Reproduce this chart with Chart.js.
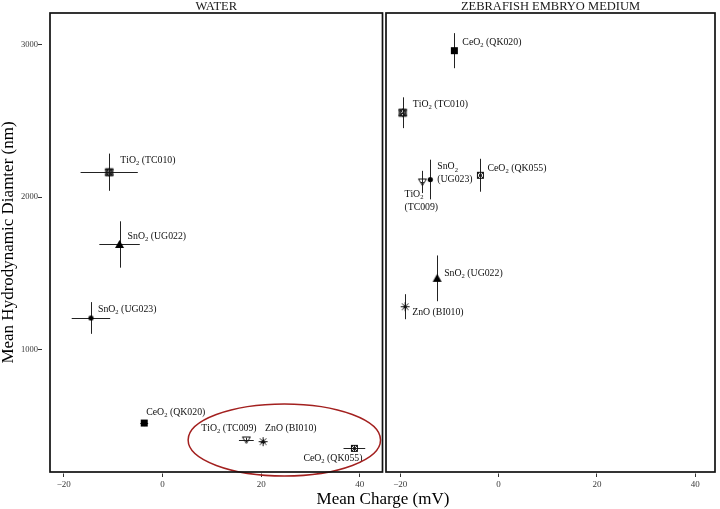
<!DOCTYPE html>
<html>
<head>
<meta charset="utf-8">
<script src="https://cdn.jsdelivr.net/npm/chart.js@4.4.0/dist/chart.umd.min.js"></script>
<style>
  body { margin: 0; background: #fff; }
  #wrap { position: relative; width: 720px; height: 509px; }
  #left { position: absolute; left: 0; top: 0; }
  #right { position: absolute; left: 384px; top: 0; }
  #xtitle { position: absolute; left: 0; width: 766px; top: 490px; text-align: center;
            font: 17px "Liberation Serif", serif; line-height: 17px; color: #000; }
</style>
</head>
<body>
<div id="wrap">
  <canvas id="left" width="384" height="509"></canvas>
  <canvas id="right" width="336" height="509"></canvas>
  <div id="xtitle">Mean Charge (mV)</div>
</div>
<script>
// --- data
const materials = ['TiO2 (TC010)', 'SnO2 (UG022)', 'SnO2 (UG023)', 'CeO2 (QK020)', 'TiO2 (TC009)', 'ZnO (BI010)', 'CeO2 (QK055)'];
const waterCharge    = [-10.8, -8.7, -14.5, -3.7, 17.0, 20.4, 38.9];
const waterChargeErr = [5.8, 4.1, 3.9, 0.8, 1.5, 0.5, 2.2];
const waterSize      = [2164, 1690, 1208, 519, 408, 397, 353];
const waterSizeErr   = [122, 152, 104, 20, 15, 15, 22];
const zebraCharge    = [-19.5, -12.5, -13.9, -9.0, -15.5, -19.0, -3.7];
const zebraChargeErr = [0.3, 0.3, 0.3, 0.3, 0.3, 0.3, 0.3];
const zebraSize      = [2554, 1468, 2116, 2961, 2100, 1282, 2144];
const zebraSizeErr   = [101, 150, 130, 115, 73, 82, 108];
const xTicks = [-20, 0, 20, 40];
const yTicks = [1000, 2000, 3000];
// circled group in the water panel (centre and half widths, in data units)
const highlight = { x: 24.7, y: 408, rx: 19.5, ry: 236 };

// --- label placement (pixel offsets from the point), [dx, dy, twoLines]
const waterLabelPos = [[11, -12], [8, -8], [7, -9], [2, -11], [-45, -12], [2, -13], [-51, 10]];
const zebraLabelPos = [[10, -8], [7, -5], [7, -12.6, true], [8, -8], [-18, 12.6, true], [7, 6], [7, -7]];

const SERIF = '"Liberation Serif", "Times New Roman", serif';
const LABEL_FONT = '9.8px ' + SERIF;
const SUB_FONT = '6.6px ' + SERIF;

// --- marker images
function marker(kind) {
  const c = document.createElement('canvas');
  c.width = 11; c.height = 11;
  const g = c.getContext('2d');
  g.strokeStyle = '#111'; g.fillStyle = '#000'; g.lineWidth = 1;
  const m = 5.5;
  if (kind === 'sqStar') {
    g.strokeRect(2, 2, 7, 7);
    g.beginPath();
    g.moveTo(2, 2); g.lineTo(9, 9); g.moveTo(9, 2); g.lineTo(2, 9);
    g.moveTo(m, 1.5); g.lineTo(9.5, 8.5); g.lineTo(1.5, 8.5); g.closePath();
    g.moveTo(m, 9.5); g.lineTo(9.5, 2.5); g.lineTo(1.5, 2.5); g.closePath();
    g.stroke();
  } else if (kind === 'triFill') {
    g.beginPath(); g.moveTo(m, 1); g.lineTo(10, 9); g.lineTo(1, 9); g.closePath(); g.fill();
  } else if (kind === 'dot') {
    g.beginPath(); g.arc(m, m, 2.6, 0, Math.PI * 2); g.fill();
  } else if (kind === 'sqFill') {
    g.fillRect(2, 2, 7, 7);
  } else if (kind === 'triDown') {
    g.beginPath(); g.moveTo(1.5, 2.5); g.lineTo(9.5, 2.5); g.lineTo(m, 9); g.closePath(); g.stroke();
  } else if (kind === 'aster') {
    g.beginPath();
    g.moveTo(m, 1); g.lineTo(m, 10); g.moveTo(1, m); g.lineTo(10, m);
    g.moveTo(2.3, 2.3); g.lineTo(8.7, 8.7); g.moveTo(8.7, 2.3); g.lineTo(2.3, 8.7);
    g.stroke();
  } else if (kind === 'sqX') {
    g.strokeRect(2.5, 2.5, 6, 6);
    g.beginPath(); g.moveTo(2.5, 2.5); g.lineTo(8.5, 8.5); g.moveTo(8.5, 2.5); g.lineTo(2.5, 8.5); g.stroke();
  }
  return c;
}
const markers = ['sqStar', 'triFill', 'dot', 'sqFill', 'triDown', 'aster', 'sqX'].map(marker);

// formula digits become subscripts
function drawRich(ctx, str, x, y) {
  let cx = x;
  for (const ch of str) {
    if (/\d/.test(ch)) {
      ctx.font = SUB_FONT; ctx.fillText(ch, cx, y + 3);
    } else {
      ctx.font = LABEL_FONT; ctx.fillText(ch, cx, y);
    }
    cx += ctx.measureText(ch).width;
  }
  return cx - x;
}

const errorBars = {
  id: 'errorBars',
  beforeDatasetsDraw(chart, args, o) {
    const { ctx, scales: { x, y } } = chart;
    ctx.save();
    ctx.strokeStyle = '#222'; ctx.lineWidth = 1;
    o.x.forEach((v, i) => {
      const px = Math.round(x.getPixelForValue(v)) + 0.5;
      const py = Math.round(y.getPixelForValue(o.y[i])) + 0.5;
      ctx.beginPath();
      ctx.moveTo(x.getPixelForValue(v - o.xe[i]), py);
      ctx.lineTo(x.getPixelForValue(v + o.xe[i]), py);
      ctx.moveTo(px, y.getPixelForValue(o.y[i] - o.ye[i]));
      ctx.lineTo(px, y.getPixelForValue(o.y[i] + o.ye[i]));
      ctx.stroke();
    });
    ctx.restore();
  }
};

const pointLabels = {
  id: 'pointLabels',
  afterDatasetsDraw(chart, args, o) {
    const { ctx, scales: { x, y } } = chart;
    ctx.save();
    ctx.fillStyle = '#111'; ctx.textBaseline = 'middle'; ctx.textAlign = 'left';
    materials.forEach((name, i) => {
      const [dx, dy, two] = o.pos[i];
      const px = x.getPixelForValue(o.x[i]) + dx;
      const py = y.getPixelForValue(o.y[i]) + dy;
      const sp = name.indexOf(' ');
      const w = drawRich(ctx, name.slice(0, sp), px, py);
      ctx.font = LABEL_FONT;
      if (two) ctx.fillText(name.slice(sp + 1), px, py + 12.5);
      else ctx.fillText(name.slice(sp), px + w, py);
    });
    if (o.ellipse) {
      const e = o.ellipse;
      const cx = x.getPixelForValue(e.x), cy = y.getPixelForValue(e.y);
      const rx = x.getPixelForValue(e.x + e.rx) - cx;
      const ry = cy - y.getPixelForValue(e.y + e.ry);
      ctx.strokeStyle = '#a3201f'; ctx.lineWidth = 1.5;
      ctx.beginPath(); ctx.ellipse(cx, cy, rx, ry, 0, 0, Math.PI * 2); ctx.stroke();
    }
    ctx.restore();
  }
};

const panelFrame = {
  id: 'panelFrame',
  afterDraw(chart, args, o) {
    const { ctx, chartArea: a } = chart;
    ctx.save();
    ctx.strokeStyle = '#111'; ctx.lineWidth = 1.7;
    ctx.strokeRect(a.left, a.top, a.right - a.left, a.bottom - a.top);
    ctx.fillStyle = '#1a1a1a'; ctx.font = '12.5px ' + SERIF;
    ctx.textAlign = 'center'; ctx.textBaseline = 'middle';
    ctx.fillText(o.title, (a.left + a.right) / 2, 6.5);
    ctx.restore();
  }
};

function makePanel(id, charge, chargeErr, size, sizeErr, labelPos, title, showY, padding, xRange, ellipse) {
  const pts = charge.map((v, i) => ({ x: v, y: size[i] }));
  return new Chart(document.getElementById(id), {
    type: 'scatter',
    data: { datasets: [{ data: pts, pointStyle: markers, pointRadius: 4 }] },
    options: {
      responsive: false, animation: false, devicePixelRatio: 1,
      layout: { padding: padding, autoPadding: false },
      plugins: {
        legend: { display: false }, tooltip: { enabled: false },
        errorBars: { x: charge, xe: chargeErr, y: size, ye: sizeErr },
        pointLabels: { x: charge, y: size, pos: labelPos, ellipse: ellipse },
        panelFrame: { title: title }
      },
      scales: {
        x: {
          type: 'linear', min: xRange[0], max: xRange[1],
          afterBuildTicks: s => { s.ticks = xTicks.map(v => ({ value: v })); },
          afterFit: s => { s.height = 37; },
          border: { display: false },
          grid: { drawOnChartArea: false, tickLength: 5, tickColor: '#333', tickWidth: 1,
                  tickBorderDash: [3.5, 1.5], tickBorderDashOffset: 3.5 },
          ticks: { padding: 2, color: '#3a3a3a', font: { family: SERIF, size: 9 },
                   callback: v => String(v).replace('-', '\u2212') }
        },
        y: {
          type: 'linear', min: 198, max: 3208, display: showY,
          afterBuildTicks: s => { s.ticks = yTicks.map(v => ({ value: v })); },
          afterFit: s => { s.width = showY ? 50 : 0; },
          border: { display: false },
          grid: { drawOnChartArea: false, tickLength: 12, tickColor: '#333', tickWidth: 1,
                  tickBorderDash: [4, 8] },
          ticks: { padding: 0, color: '#3a3a3a', font: { family: SERIF, size: 8.5 },
                   callback: v => String(v) },
          title: { display: true, text: 'Mean Hydrodynamic Diamter (nm)', color: '#000',
                   padding: 0, font: { family: SERIF, size: 17, lineHeight: 1 } }
        }
      }
    },
    plugins: [errorBars, pointLabels, panelFrame]
  });
}

makePanel('left', waterCharge, waterChargeErr, waterSize, waterSizeErr, waterLabelPos,
          'WATER', true, { top: 13, right: 1.5, left: 0, bottom: 0 }, [-22.8, 44.6], highlight);
makePanel('right', zebraCharge, zebraChargeErr, zebraSize, zebraSizeErr, zebraLabelPos,
          'ZEBRAFISH EMBRYO MEDIUM', false, { top: 13, right: 5, left: 2, bottom: 0 }, [-22.9, 44.0], null);
</script>
</body>
</html>
